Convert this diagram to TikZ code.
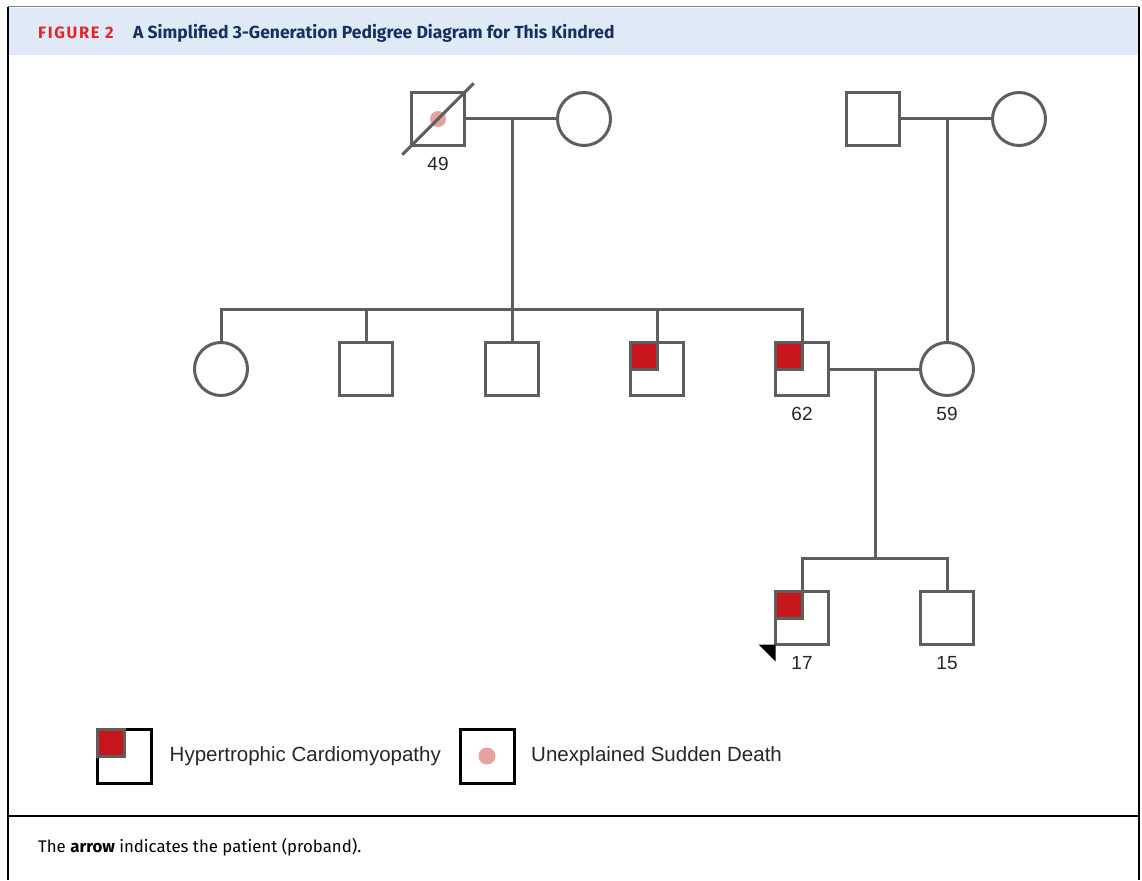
\documentclass[tikz,border=0pt]{standalone}
\usepackage{fontspec}
\setmainfont{Liberation Sans}
\newfontfamily\headfont{Fira Sans}
\newfontfamily\figfont[LetterSpace=10]{Fira Sans}
\usepackage{tikz}
\usetikzlibrary{positioning}
\usepackage{xcolor}
\definecolor{pedgray}{HTML}{5E5E5E}
\definecolor{hcmred}{HTML}{C8161D}
\definecolor{sdpink}{HTML}{E6A1A1}
\definecolor{headbg}{HTML}{DFEAF6}
\definecolor{headnavy}{HTML}{18305E}
\definecolor{figred}{HTML}{E2252B}

\begin{document}
\begin{tikzpicture}[x=1pt, y=-1pt,
    male/.style={draw=pedgray, line width=3pt, fill=white, minimum size=53pt, inner sep=0pt, outer sep=0pt},
    female/.style={male, circle},
    rel/.style={draw=pedgray, line width=3pt},
    hcm/.style={fill=hcmred, draw=pedgray, line width=3pt},
    age/.style={font=\fontsize{19}{19}\selectfont, text=black!85, inner sep=0pt},
    legbox/.style={draw=black, line width=3pt, fill=white, minimum size=54pt, inner sep=0pt, outer sep=0pt},
    legtext/.style={font=\fontsize{20.5}{20.5}\selectfont, text=black!85, inner sep=0pt}]
    \useasboundingbox (0,0) rectangle (1142,880);

    % Frame and header band
    \fill[headbg] (9,8) rectangle (1138,55);
    \draw[gray, line width=1pt] (8,7) -- (1139,7);
    \draw[line width=2pt] (8,7) -- (8,880);
    \draw[line width=2pt] (1139,7) -- (1139,880);
    \draw[line width=2pt] (8,815.5) -- (1139,815.5);
    \node[anchor=base west, inner sep=0pt, text=figred, font=\figfont\bfseries\fontsize{16.5}{16.5}\selectfont] (fig) at (38,39) {FIGURE 2};
    \node[anchor=base west, inner sep=0pt, text=headnavy, font=\headfont\bfseries\fontsize{17.5}{17.5}\selectfont] (title) at (133,39) {A Simplified 3-Generation Pedigree Diagram for This Kindred};

    % First generation
    \node[male] (gf) at (438,119) {};
    \node[female] (gm) at (584,119) {};
    \node[male] (mgf) at (873,119) {};
    \node[female] (mgm) at (1019,119) {};
    \node[age] (gfage) [below=12pt of gf] {49};
    \fill[sdpink] (gf.center) circle (8pt);
    \draw[pedgray, line width=3pt, shorten <=-13pt, shorten >=-13pt] (gf.south west) -- (gf.north east);

    % Second generation
    \node[female] (c1) at (221,369) {};
    \node[male] (c2) at (366,369) {};
    \node[male] (c3) at (512,369) {};
    \node[male] (c4) at (657,369) {};
    \node[male] (fa) at (802,369) {};
    \node[female] (mo) at (947,369) {};
    \node[age] (faage) [below=12pt of fa] {62};
    \node[age] (moage) [below=12pt of mo] {59};
    \draw[hcm] (c4.north west) rectangle (c4.center);
    \draw[hcm] (fa.north west) rectangle (fa.center);

    % Third generation
    \node[male] (pb) at (802,618) {};
    \node[male] (sib) at (947,618) {};
    \node[age] (pbage) [below=12pt of pb] {17};
    \node[age] (sibage) [below=12pt of sib] {15};
    \draw[hcm] (pb.north west) rectangle (pb.center);
    \fill (pb.south west) -- ++(-17,0) -- ++(17,17) -- cycle;

    \coordinate (m1) at (512,119);
    \coordinate (s1) at (512,309);
    \coordinate (m2) at (947,119);
    \coordinate (m3) at (875,369);
    \coordinate (s2) at (875,558);

    \path[rel]
    (gf) edge (gm)
    (m1) edge (s1)
    (mgf) edge (mgm)
    (m2) edge (mo)
    (fa) edge (mo)
    (m3) edge (s2)
    (c2) edge (c2 |- s1)
    (c3) edge (s1)
    (c4) edge (c4 |- s1);
    \draw[rel] (c1) |- (s1) -| (fa);
    \draw[rel] (pb) |- (s2) -| (sib);

    % Legend
    \node[legbox] (l1) at (124.5,756) {};
    \draw[hcm] (l1.north west) rectangle (l1.center);
    \node[legtext, anchor=west] (t1) [right=18pt of l1] {Hypertrophic Cardiomyopathy};
    \node[legbox] (l2) at (487,756) {};
    \fill[sdpink] (l2.center) circle (8.5pt);
    \node[legtext, anchor=west] (t2) [right=17pt of l2] {Unexplained Sudden Death};

    % Caption
    \node[anchor=base west, inner sep=0pt, font=\headfont\fontsize{16.8}{16.8}\selectfont] (cap) at (38,852) {The \textbf{arrow} indicates the patient (proband).};
\end{tikzpicture}
\end{document}
